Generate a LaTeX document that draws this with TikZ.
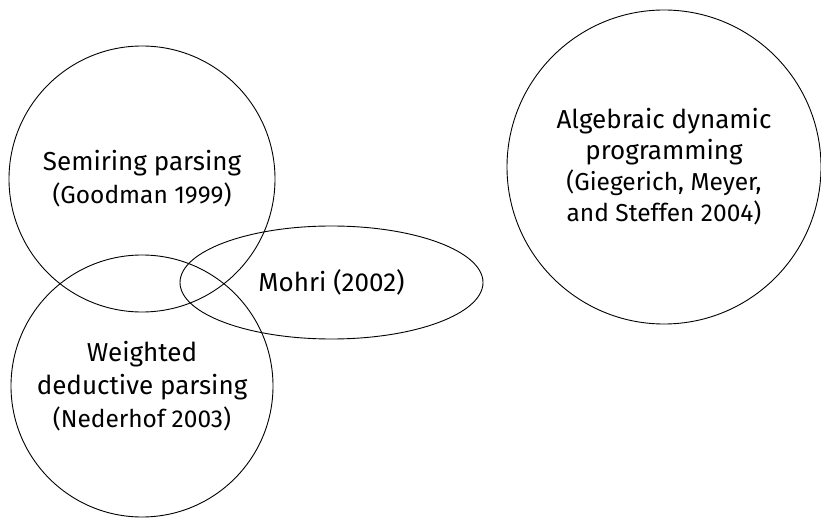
\documentclass[tikz,border=0pt]{standalone}
\usepackage{fontspec}
\setmainfont{Fira Sans}
\usetikzlibrary{shapes.geometric}
\tikzset{
  area/.style={draw, line width=0.9pt, inner sep=0pt, align=center,
    font=\fontsize{26}{33}\selectfont},
  ring/.style={area, circle, minimum size=#1},
  oval/.style={area, ellipse, minimum width=303pt, minimum height=113pt},
}
\newcommand{\refnote}[1]{{\fontsize{24.5}{33}\selectfont #1}}
\begin{document}
\begin{tikzpicture}[x=1pt, y=-1pt]
  \useasboundingbox (0,0) rectangle (821,518);
  \node[ring=266pt] (semiring) at (142,179)
    {Semiring parsing\\ \refnote{(Goodman 1999)}};
  \node[ring=262pt] (deductive) at (142,386)
    {Weighted\\ deductive parsing\\ \refnote{(Nederhof 2003)}};
  \node[oval] (mohri) at (331.5,282.5) {Mohri (2002)};
  \node[ring=314pt, font=\fontsize{26}{31}\selectfont] (adp) at (664,167)
    {Algebraic dynamic\\ programming\\ \refnote{(Giegerich, Meyer,}\\ \refnote{and Steffen 2004)}};
\end{tikzpicture}
\end{document}
